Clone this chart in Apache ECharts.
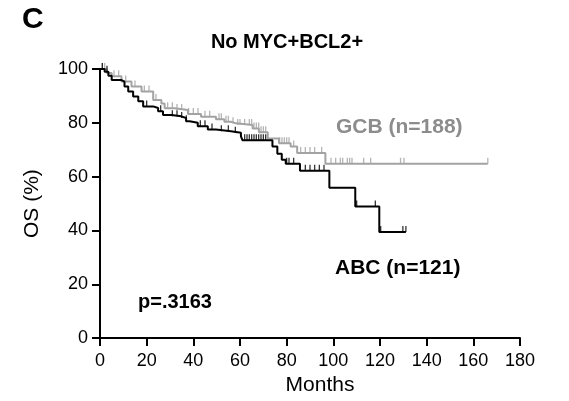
<!DOCTYPE html>
<html><head><meta charset="utf-8">
<script src="https://cdn.jsdelivr.net/npm/echarts@6/dist/echarts.min.js"></script>
<style>html,body{margin:0;padding:0;background:#fff}#c{width:569px;height:401px}</style>
</head><body><div id="c"></div>
<script>
// GCB (grey) step curve
const gcbTimes = [0, 2.9, 5.0, 9.2, 13.5, 17.8, 22.8, 26.3, 27.7, 32.0, 37.7, 43.3, 49.7, 53.3, 56.1, 58.3, 65.4, 68.1, 71.9, 76.7, 81.7, 84.5, 96.6, 166.2];
const gcbSurv  = [100, 98.5, 97.3, 95.4, 93.5, 91.6, 88.5, 87.2, 85.4, 84.8, 83.3, 82.3, 81.3, 80.4, 79.8, 79.2, 77.9, 76.5, 74.2, 72.4, 71.2, 68.8, 64.8, 64.8];
const gcbCensor = [1, 2, 6, 8, 11, 15, 19, 21, 24, 29, 31, 33, 35, 38, 40, 42, 45, 47, 51, 52, 54, 55, 57, 59, 60, 62, 64, 65, 66, 67, 68, 69, 70, 71, 77, 78, 79, 80, 81, 83, 86, 88, 90, 92, 95, 99, 101, 103, 104, 106, 107, 108, 113, 116, 128.8, 130.3, 166.2];
// ABC (black) step curve
const abcTimes = [0, 2.0, 3.6, 5.0, 9.2, 10.5, 12.1, 14.2, 16.4, 18.5, 22.8, 24.9, 27.0, 30.6, 34.8, 36.9, 38.4, 41.9, 46.2, 49.7, 56.1, 60.4, 61.1, 73.9, 76.0, 77.9, 79.6, 85.7, 98.3, 109.4, 119.7, 131.1];
const abcSurv  = [100, 99, 97.5, 95.9, 95.3, 93.5, 91.6, 89.8, 88, 86.1, 85.5, 84.3, 82.9, 82.4, 81.8, 80.6, 80, 78.7, 77.5, 76.9, 76.3, 75, 73.5, 71.2, 68.5, 66.3, 64.8, 62.2, 55.9, 48.9, 39.4, 39.4];
const abcCensor = [1, 3, 20, 26, 31, 33, 35, 37, 43, 45, 48, 52, 55, 58, 62, 63, 64, 65, 66, 67, 68, 69, 70, 71, 80, 81, 83, 88, 90, 92, 94, 96, 110, 118, 120.3, 129.8, 131.1];
// axis ticks
const xTicks = [0, 20, 40, 60, 80, 100, 120, 140, 160, 180];
const yTicks = [0, 20, 40, 60, 80, 100];

function stepAt(times, surv, t) {
  let v = surv[0];
  for (let i = 0; i < times.length; i++) { if (times[i] <= t) v = surv[i]; }
  return v;
}
const pairs = (ts, ss) => ts.map((t, i) => [t, ss[i]]);
const censorPts = (c, ts, ss) => c.map(t => [t, stepAt(ts, ss, t)]);

const GREY = '#a3a3a3';
const FONT = 'Liberation Sans, Arial, sans-serif';
const chart = echarts.init(document.getElementById('c'));
chart.setOption({
  animation: false,
  backgroundColor: '#fff',
  grid: { left: 100, right: 49, top: 69, bottom: 61 },
  xAxis: {
    type: 'value', min: xTicks[0], max: xTicks[xTicks.length - 1], interval: 20,
    name: 'Months', nameLocation: 'middle', nameGap: 31,
    nameTextStyle: { fontFamily: FONT, fontSize: 21, color: '#000', padding: [0, 0, 0, 20] },
    axisLine: { lineStyle: { color: '#000', width: 2 } },
    axisTick: { length: 8, lineStyle: { color: '#000', width: 2 } },
    axisLabel: { fontFamily: FONT, fontSize: 18, color: '#000', margin: 14 },
    splitLine: { show: false }
  },
  yAxis: {
    type: 'value', min: yTicks[0], max: yTicks[yTicks.length - 1], interval: 20,
    name: 'OS (%)', nameLocation: 'middle', nameGap: 57, nameRotate: 90,
    nameTextStyle: { fontFamily: FONT, fontSize: 21, color: '#000' },
    axisLine: { show: true, lineStyle: { color: '#000', width: 2 } },
    axisTick: { show: true, length: 8, lineStyle: { color: '#000', width: 2 } },
    axisLabel: { fontFamily: FONT, fontSize: 18, color: '#000', margin: 12 },
    splitLine: { show: false }
  },
  series: [
    { name: 'GCB', type: 'line', step: 'end', data: pairs(gcbTimes, gcbSurv), showSymbol: false,
      lineStyle: { color: GREY, width: 2 }, itemStyle: { color: GREY }, z: 2 },
    { name: 'GCB censor', type: 'scatter', data: censorPts(gcbCensor, gcbTimes, gcbSurv),
      symbol: 'rect', symbolSize: [1.3, 6], symbolOffset: [0, -3], itemStyle: { color: GREY }, z: 2 },
    { name: 'ABC', type: 'line', step: 'end', data: pairs(abcTimes, abcSurv), showSymbol: false,
      lineStyle: { color: '#000', width: 2 }, itemStyle: { color: '#000' }, z: 3 },
    { name: 'ABC censor', type: 'scatter', data: censorPts(abcCensor, abcTimes, abcSurv),
      symbol: 'rect', symbolSize: [1.3, 6], symbolOffset: [0, -3], itemStyle: { color: '#000' }, z: 3 }
  ],
  graphic: [
    { type: 'text', x: 22, y: 20, style: { text: 'C', font: 'bold 30px ' + FONT, fill: '#000', textAlign: 'left', textVerticalAlign: 'middle' } },
    { type: 'text', x: 287, y: 42, style: { text: 'No MYC+BCL2+', font: 'bold 20px ' + FONT, fill: '#000', textAlign: 'center', textVerticalAlign: 'middle' } },
    { type: 'text', x: 336, y: 127, style: { text: 'GCB (n=188)', font: 'bold 21px ' + FONT, fill: '#8c8c8c', textAlign: 'left', textVerticalAlign: 'middle' } },
    { type: 'text', x: 335, y: 268, style: { text: 'ABC (n=121)', font: 'bold 21px ' + FONT, fill: '#000', textAlign: 'left', textVerticalAlign: 'middle' } },
    { type: 'text', x: 138, y: 302, style: { text: 'p=.3163', font: 'bold 20px ' + FONT, fill: '#000', textAlign: 'left', textVerticalAlign: 'middle' } }
  ]
});
</script></body></html>
